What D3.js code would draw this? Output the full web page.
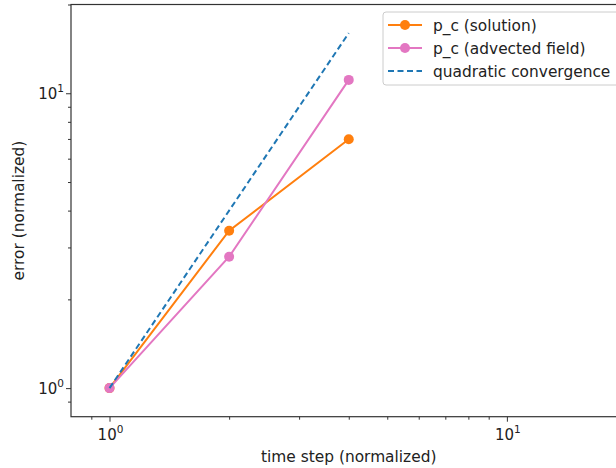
<!DOCTYPE html>
<html>
<head>
<meta charset="utf-8">
<script src="https://cdn.jsdelivr.net/npm/d3@7"></script>
<style>
  body { margin: 0; background: #fff; }
  text { font-family: "DejaVu Sans", sans-serif; fill: #222; }
</style>
</head>
<body>
<svg width="616" height="468"></svg>
<script>
let steps = [1, 2, 4];
let solution = [1, 3.42, 6.98];
let advected = [1, 2.79, 11.1];
let quadratic = [1, 4, 16];
let majorTicks = [1, 10];
let minorTicks = [0.9, 2, 3, 4, 5, 6, 7, 8, 9, 20];

let svg = d3.select("svg");
let plotLeft = 71, plotTop = 4.5, plotRight = 626.5, plotBottom = 416.7;
let fontSize = "15.4px";

let x = d3.scaleLog().domain([0.8, 20]).range([plotLeft, plotRight]);
let y = d3.scaleLog().domain([0.8, 20]).range([plotBottom, plotTop]);

let series = [
  {name: "p_c (solution)", values: solution, color: "#ff7f0e", dash: null, marker: true},
  {name: "p_c (advected field)", values: advected, color: "#e377c2", dash: null, marker: true},
  {name: "quadratic convergence", values: quadratic, color: "#1f77b4", dash: "6,3.5", marker: false}
];

let line = d3.line().x(d => x(d[0])).y(d => y(d[1]));

// draw order: solution, advected, then dashed on top
series.forEach(s => {
  let pts = steps.map((t, i) => [t, s.values[i]]);
  svg.append("path")
    .attr("d", line(pts))
    .attr("fill", "none")
    .attr("stroke", s.color)
    .attr("stroke-width", 2)
    .attr("stroke-dasharray", s.dash);
  if (s.marker) {
    svg.append("g").selectAll("circle")
      .data(pts)
      .enter().append("circle")
      .attr("cx", d => x(d[0]))
      .attr("cy", d => y(d[1]))
      .attr("r", 5)
      .attr("fill", s.color);
  }
});

// axes
let xAxis = svg.append("g").attr("transform", `translate(0,${plotBottom})`);
xAxis.call(d3.axisBottom(x).tickValues(majorTicks).tickSize(5).tickFormat(""));
xAxis.append("g").call(d3.axisBottom(x).tickValues(minorTicks).tickSize(3).tickFormat(""));
let yAxis = svg.append("g").attr("transform", `translate(${plotLeft},0)`);
yAxis.call(d3.axisLeft(y).tickValues(majorTicks).tickSize(5).tickFormat(""));
yAxis.append("g").call(d3.axisLeft(y).tickValues(minorTicks).tickSize(3).tickFormat(""));
svg.selectAll(".domain").remove();
svg.selectAll(".tick line").attr("stroke", "#333").attr("stroke-width", 1);

// frame
svg.append("rect")
  .attr("x", plotLeft).attr("y", plotTop)
  .attr("width", plotRight - plotLeft).attr("height", plotBottom - plotTop)
  .attr("fill", "none").attr("stroke", "#333").attr("stroke-width", 1.2);

// tick labels with exponents
function powLabel(g, v) {
  let t = g.append("text").style("font-size", "15px");
  t.append("tspan").text("10");
  t.append("tspan").attr("dy", -7).style("font-size", "10.5px").text(Math.round(Math.log10(v)));
  return t;
}
majorTicks.forEach(v => {
  powLabel(svg, v).attr("x", x(v) + 1).attr("y", plotBottom + 23).attr("text-anchor", "middle");
  powLabel(svg, v).attr("x", plotLeft - 7).attr("y", y(v) + 6).attr("text-anchor", "end");
});

svg.append("text")
  .attr("x", (plotLeft + plotRight) / 2).attr("y", 462)
  .attr("text-anchor", "middle").style("font-size", fontSize)
  .text("time step (normalized)");
svg.append("text")
  .attr("transform", `translate(24,${(plotTop + plotBottom) / 2}) rotate(-90)`)
  .attr("text-anchor", "middle").style("font-size", fontSize)
  .text("error (normalized)");

// legend
let lg = svg.append("g").attr("transform", "translate(383,12)");
lg.append("rect")
  .attr("width", 238).attr("height", 73).attr("rx", 3)
  .attr("fill", "#fff").attr("fill-opacity", 0.8)
  .attr("stroke", "#ccc").attr("stroke-width", 1);
series.forEach((s, i) => {
  let yy = 13 + i * 23;
  lg.append("line")
    .attr("x1", 5).attr("x2", 39).attr("y1", yy).attr("y2", yy)
    .attr("stroke", s.color).attr("stroke-width", 2)
    .attr("stroke-dasharray", s.dash);
  if (s.marker) {
    lg.append("circle").attr("cx", 22).attr("cy", yy).attr("r", 5).attr("fill", s.color);
  }
  lg.append("text")
    .attr("x", 50).attr("y", yy + 5.5).style("font-size", fontSize)
    .text(s.name);
});
</script>
</body>
</html>
